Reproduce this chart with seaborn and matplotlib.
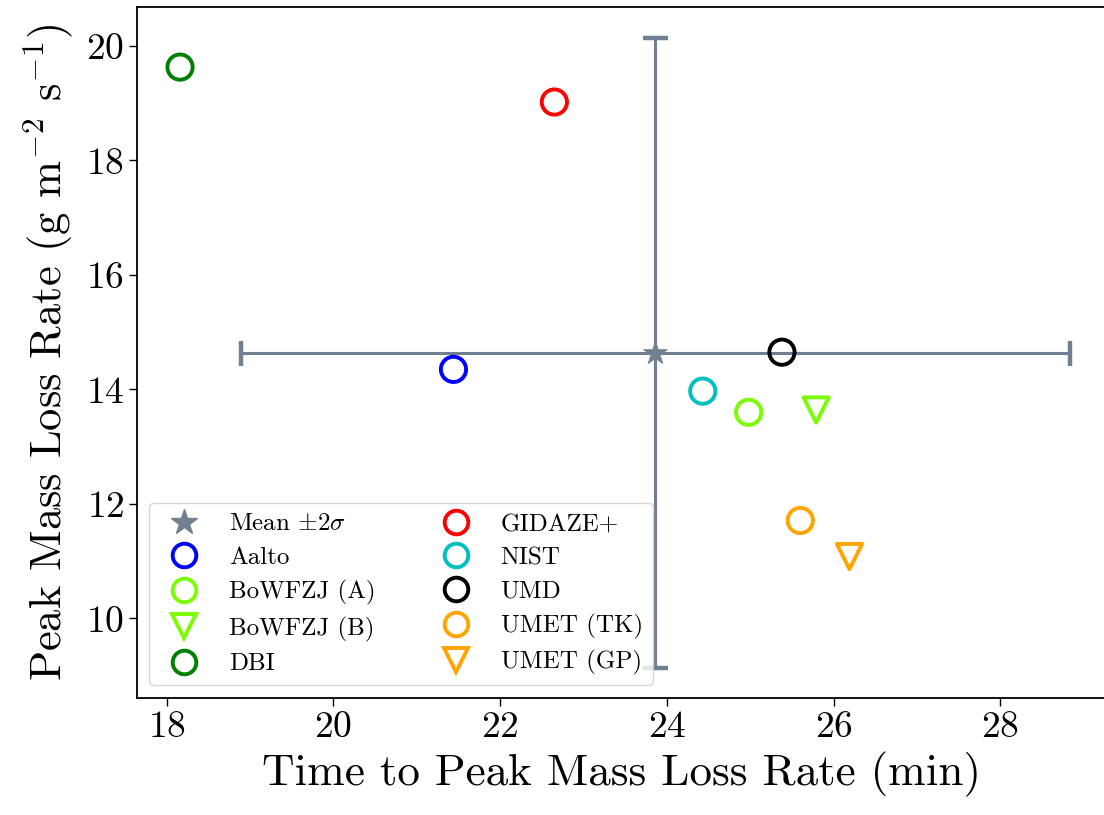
import numpy as np
import pandas as pd
import matplotlib
matplotlib.use("Agg")
import matplotlib.pyplot as plt
from matplotlib.lines import Line2D
import seaborn as sns

# Per-lab results: time to peak MLR (min) and peak MLR (g m^-2 s^-1)
labs = ["Aalto", "BoWFZJ (A)", "BoWFZJ (B)", "DBI", "GIDAZE+",
        "NIST", "UMD", "UMET (TK)", "UMET (GP)"]
time_to_peak = [21.44, 24.98, 25.79, 18.16, 22.65, 24.43, 25.38, 25.60, 26.19]
peak_mlr = [14.35, 13.60, 13.64, 19.63, 19.02, 13.97, 14.65, 11.71, 11.08]
colors = ["#0000ff", "#7cfc00", "#7cfc00", "#008000", "#ff0000",
          "#00bfbf", "#000000", "#ffa500", "#ffa500"]
markers = ["o", "o", "v", "o", "o", "o", "o", "o", "v"]

# Ensemble mean and 2-sigma spread
mean_time = [23.86]
mean_mlr = [14.64]
two_sigma_time = [4.97]
two_sigma_mlr = [5.50]
mean_color = "#708090"

plt.rcParams["font.family"] = "cmr10"
plt.rcParams["mathtext.fontset"] = "cm"
plt.rcParams["axes.formatter.use_mathtext"] = True

fig = plt.figure(figsize=(11.04, 8.15), dpi=100)
ax = fig.add_axes([0.1238, 0.1436, 0.8790, 0.8478])

ax.errorbar(mean_time, mean_mlr, xerr=two_sigma_time, yerr=two_sigma_mlr,
            fmt="none", ecolor=mean_color, elinewidth=2.2, capsize=9,
            capthick=3.2, zorder=2)

mean_df = pd.DataFrame({"t": mean_time, "m": mean_mlr})
sns.scatterplot(data=mean_df, x="t", y="m", marker="*", s=330,
                color=mean_color, edgecolor=mean_color, linewidth=0.5,
                ax=ax, zorder=3)

df = pd.DataFrame({"lab": labs, "t": time_to_peak, "m": peak_mlr,
                   "c": colors, "mk": markers})
for _, row in df.iterrows():
    sns.scatterplot(x=[row["t"]], y=[row["m"]], marker=row["mk"], s=330,
                    facecolors="none", edgecolor=row["c"], linewidth=2.8,
                    ax=ax, zorder=4)

handles = [Line2D([], [], linestyle="none", marker="*", markersize=19,
                  color=mean_color, label=r"Mean $\pm2\sigma$")]
for lab, c, mk in zip(labs, colors, markers):
    handles.append(Line2D([], [], linestyle="none", marker=mk, markersize=17,
                          markerfacecolor="none", markeredgecolor=c,
                          markeredgewidth=2.8, label=lab))
ax.legend(handles=handles, loc="lower left", ncol=2, fontsize=18,
          handletextpad=0.8, columnspacing=2.2, borderaxespad=0.5,
          labelspacing=0.45)

ax.set_xlim(17.64, 29.28)
ax.set_ylim(8.61, 20.68)
ax.set_xticks([18, 20, 22, 24, 26, 28])
ax.set_yticks([10, 12, 14, 16, 18, 20])
ax.tick_params(labelsize=27, length=5.5, width=1.0, direction="out")
for sp in ax.spines.values():
    sp.set_linewidth(1.3)
ax.set_xlabel("Time to Peak Mass Loss Rate (min)", fontsize=32.5, labelpad=6)
ax.set_ylabel(r"Peak Mass Loss Rate (g m$^{-2}$ s$^{-1}$)", fontsize=32,
              labelpad=8)

fig.savefig("out.png", dpi=100)
